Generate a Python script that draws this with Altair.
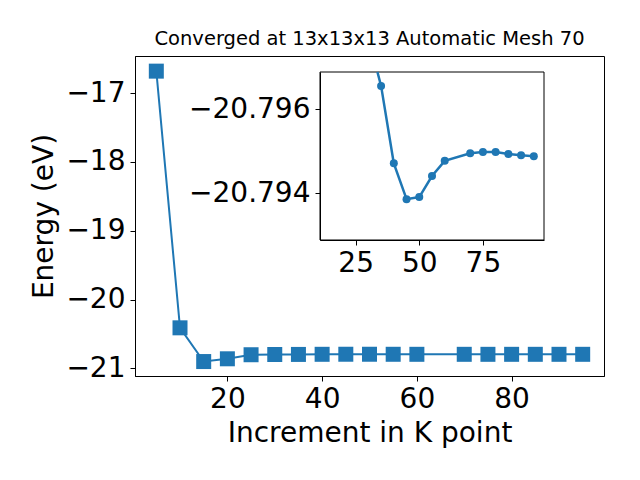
import altair as alt
import pandas as pd

# Data
kpoints = [5, 10, 15, 20, 25, 30, 35, 40, 45, 50, 55, 60, 70, 75, 80, 85, 90, 95]
energy = [-16.68, -20.41, -20.90, -20.86, -20.801, -20.7977, -20.79655, -20.79471,
          -20.79386, -20.79391, -20.79441, -20.79477, -20.79495, -20.79498,
          -20.79498, -20.79493, -20.79490, -20.79488]

main_x_domain = [0.5, 99.5]
main_y_domain = [-21.11, -16.46]
main_x_ticks = [20, 40, 60, 80]
main_y_ticks = [-17, -18, -19, -20, -21]

inset_x_domain = [11, 99]
inset_top = -20.79688
inset_bottom = -20.79289
inset_x_ticks = [25, 50, 75]
inset_y_ticks = [-20.796, -20.794]

df = pd.DataFrame({"K": kpoints, "E": energy})

BLUE = "#1f77b4"
FONT = "DejaVu Sans"
W, H = 469, 320
# inset placement inside plot area (pixels)
IX0, IX1, IY0, IY1 = 185, 409, 16, 184

base = alt.Chart(df)

mx = alt.Scale(domain=main_x_domain, nice=False, zero=False)
my = alt.Scale(domain=main_y_domain, nice=False, zero=False)

main_line = base.mark_line(color=BLUE, strokeWidth=2).encode(
    x=alt.X("K:Q", scale=mx,
            axis=alt.Axis(values=main_x_ticks, title="Increment in K point",
                          labelPadding=4, titlePadding=6, format="d")),
    y=alt.Y("E:Q", scale=my,
            axis=alt.Axis(values=main_y_ticks, title="Energy (eV)",
                          labelPadding=5, titlePadding=7, format="d")),
)
main_pts = base.mark_square(size=225, color=BLUE, opacity=1).encode(
    x=alt.X("K:Q", scale=mx), y=alt.Y("E:Q", scale=my)
)
main = alt.layer(main_line, main_pts)

ix = alt.Scale(domain=inset_x_domain, range=[IX0, IX1], nice=False, zero=False)
iy = alt.Scale(domain=[inset_top, inset_bottom], range=[IY0, IY1], nice=False, zero=False)

x_axis_inset = alt.Axis(orient="bottom", offset=IY1 - H, values=inset_x_ticks,
                        title=None, format="d", zindex=1, labelPadding=4)
y_axis_inset = alt.Axis(orient="left", offset=-IX0, values=inset_y_ticks,
                        title=None, format=".3f", zindex=1, labelPadding=5)

frame = alt.Chart(alt.Data(values=[{"a": 1}])).mark_rect(
    fill="white", stroke="black", strokeWidth=1
).encode(
    x=alt.datum(inset_x_domain[0], type="quantitative", scale=ix, axis=x_axis_inset),
    x2=alt.datum(inset_x_domain[1]),
    y=alt.datum(inset_top, type="quantitative", scale=iy, axis=y_axis_inset),
    y2=alt.datum(inset_bottom),
)

in_range = f"datum.Ec >= {inset_top} && datum.Ec <= {inset_bottom}"
inset_line = base.transform_window(
    nK="lead(K)", nE="lead(E)", sort=[alt.SortField("K")]
).transform_calculate(
    Kc=f"datum.E < {inset_top} && datum.nE >= {inset_top} ? datum.K + ({inset_top} - datum.E)/(datum.nE - datum.E)*(datum.nK - datum.K) : datum.K",
    Ec=f"datum.E < {inset_top} && datum.nE >= {inset_top} ? {inset_top} : datum.E",
).transform_filter(
    in_range
).mark_line(color=BLUE, strokeWidth=2.5).encode(
    x=alt.X("Kc:Q", scale=ix, axis=x_axis_inset),
    y=alt.Y("Ec:Q", scale=iy, axis=y_axis_inset),
    order="K:Q",
)
inset_pts = base.transform_filter(
    f"datum.E >= {inset_top} && datum.E <= {inset_bottom}"
).mark_circle(size=64, color=BLUE, opacity=1).encode(
    x=alt.X("K:Q", scale=ix, axis=x_axis_inset),
    y=alt.Y("E:Q", scale=iy, axis=y_axis_inset),
)
inset = alt.layer(frame, inset_line, inset_pts)

chart = alt.layer(main, inset).resolve_scale(
    x="independent", y="independent"
).properties(
    width=W, height=H,
    title=alt.TitleParams("Converged at 13x13x13 Automatic Mesh 70", fontSize=19.5,
                          font=FONT, fontWeight="normal", color="black",
                          anchor="middle", frame="group", offset=7),
    autosize=alt.AutoSizeParams(type="none"),
    padding={"left": 127, "top": 48, "right": 28, "bottom": 96},
).configure_view(
    stroke="black", strokeWidth=1
).configure_axis(
    grid=False, domainColor="black", tickColor="black", tickSize=5,
    labelFontSize=28, titleFontSize=28, labelFont=FONT, titleFont=FONT,
    labelColor="black", titleColor="black", titleFontWeight="normal",
    domainWidth=1, tickWidth=1,
)

chart.save("out.html", embed_options={"renderer": "svg", "actions": False})
